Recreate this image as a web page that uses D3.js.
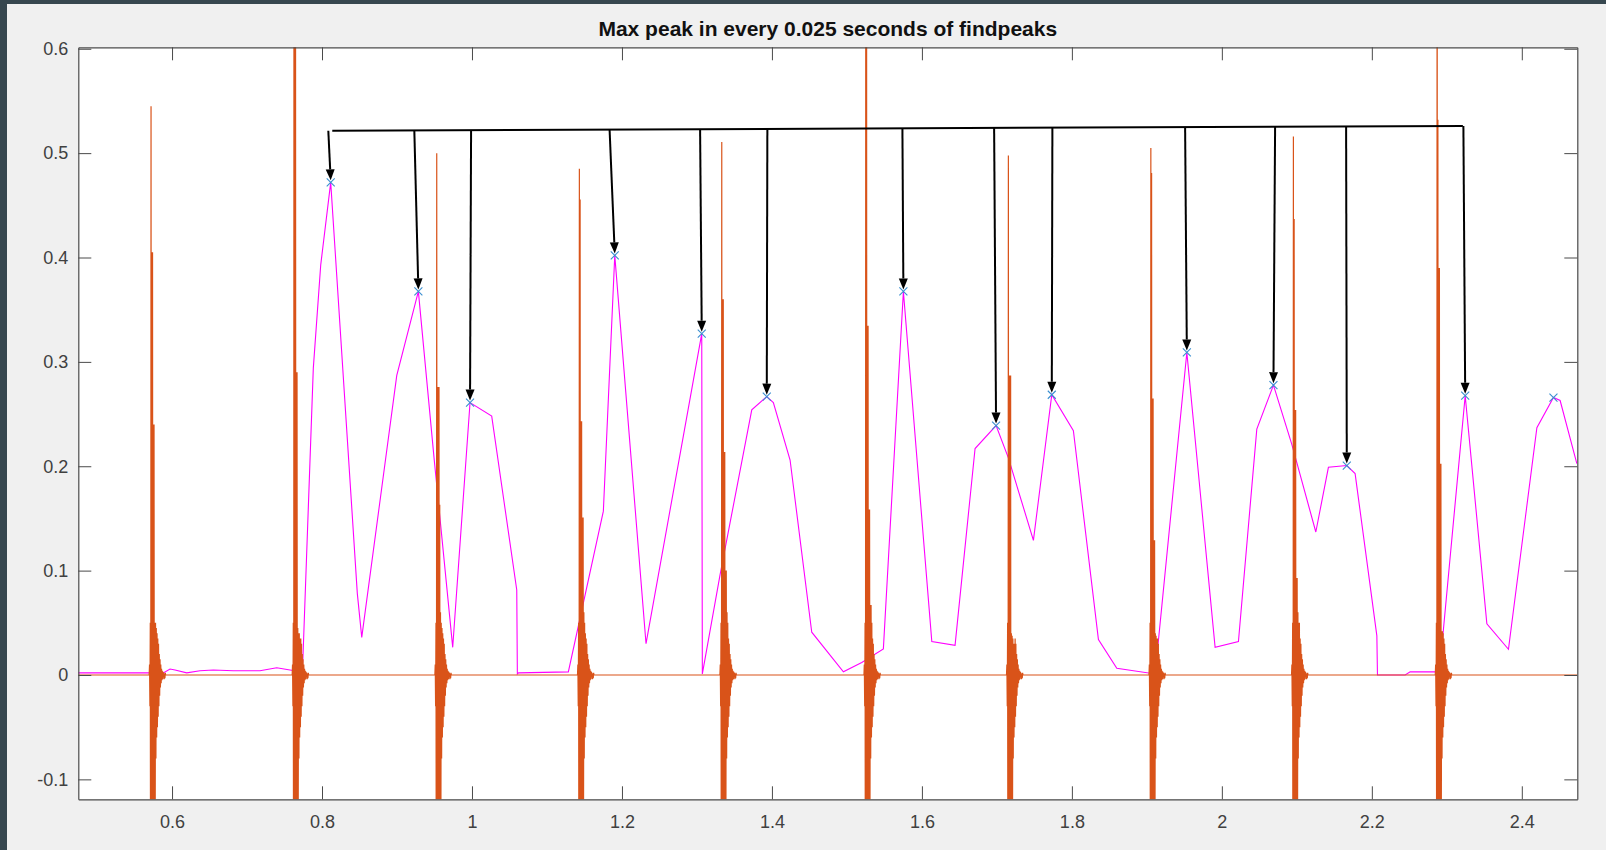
<!DOCTYPE html>
<html>
<head>
<meta charset="utf-8">
<script src="https://cdn.jsdelivr.net/npm/d3@7"></script>
<style>
  body { margin: 0; background: #37474f; }
  svg { display: block; }
  text { font-family: "Liberation Sans", Arial, sans-serif; }
</style>
</head>
<body>
<svg id="chart" width="1606" height="850"></svg>
<script>
// envelope: max peak in every 0.025 s (time in s, value)
const envTime = [0.475, 0.5706, 0.5884, 0.5973, 0.604, 0.6196, 0.6373, 0.655, 0.6817, 0.7173, 0.7396, 0.7573, 0.773,
  0.7745, 0.7884, 0.7983, 0.8116, 0.8471, 0.853, 0.8997, 0.9285, 0.9494, 0.9743, 0.9974, 1.0263, 1.0597, 1.0605,
  1.062, 1.1285, 1.1752, 1.1904, 1.2321, 1.3064, 1.3072, 1.3308, 1.3731, 1.3931, 1.4019, 1.4242, 1.4531, 1.4953,
  1.5198, 1.5486, 1.5753, 1.6132, 1.6442, 1.6709, 1.6989, 1.7153, 1.7487, 1.7732, 1.802, 1.8354, 1.8599, 1.911,
  1.9533, 1.991, 2.0221, 2.0466, 2.0688, 2.0933, 2.1253, 2.1421, 2.1666, 2.1777, 2.2067, 2.2075, 2.2444, 2.2511,
  2.2844, 2.2911, 2.3245, 2.3534, 2.3822, 2.4201, 2.4422, 2.4511, 2.4734];
const envValue = [0.002, 0.002, 0.002, 0.0057, 0.0048, 0.002, 0.004, 0.0048, 0.004, 0.004, 0.007, 0.0048, 0.003,
  0.015, 0.294, 0.393, 0.472, 0.078, 0.036, 0.287, 0.3675, 0.208, 0.0265, 0.261, 0.248, 0.0815, 0.001,
  0.002, 0.003, 0.157, 0.402, 0.03, 0.327, 0.001, 0.096, 0.254, 0.2667, 0.261, 0.206, 0.041, 0.003,
  0.012, 0.025, 0.3675, 0.032, 0.0285, 0.217, 0.239, 0.208, 0.129, 0.2685, 0.234, 0.034, 0.0064, 0.001,
  0.309, 0.0265, 0.032, 0.2356, 0.2777, 0.221, 0.137, 0.199, 0.2007, 0.193, 0.0375, 0.0, 0.0, 0.003,
  0.003, 0.01, 0.2676, 0.049, 0.0246, 0.237, 0.2658, 0.263, 0.2025];

// peaks found by findpeaks
const peakTime = [0.8116, 0.9285, 0.9974, 1.1904, 1.3064, 1.3931, 1.5753, 1.6989, 1.7732, 1.9533, 2.0688, 2.1666, 2.3245, 2.4422];
const peakValue = [0.472, 0.3675, 0.261, 0.402, 0.327, 0.2667, 0.3675, 0.239, 0.2685, 0.309, 0.2777, 0.2007, 0.2676, 0.2658];

// hand-drawn annotation: bracket line and arrows down to the first 13 peaks
const bracketTime = [0.8137, 2.3214];
const bracketValue = [0.5215, 0.526];
const arrowTopTime = [0.8084, 0.9231, 0.9988, 1.1835, 1.3042, 1.3939, 1.574, 1.6963, 1.774, 1.951, 2.071, 2.1657, 2.3221];

// raw signal: one click burst per beat, samples every sampleStep seconds
const sampleStep = 0.0005;
const burstTime = [0.572, 0.7627, 0.953, 1.1432, 1.3331, 1.5252, 1.7153, 1.9053, 2.0954, 2.2871];
const ringLead = [0, 0.01, -0.03, 0.05, -0.35];
const burstCore = [
  [0.545, -0.6, 0.405, -0.5, 0.405, -0.45, 0.24, -0.4, 0.24, -0.3, 0.05, -0.16, 0.05, -0.08, 0.045, -0.06, 0.04, -0.05],
  [0.95, -0.7, 0.8, -0.6, 0.65, -0.5, 0.29, -0.4, 0.29, -0.3, 0.045, -0.16, 0.04, -0.08, 0.04, -0.06, 0.035, -0.05],
  [0.50, -0.6, 0.276, -0.5, 0.276, -0.45, 0.276, -0.4, 0.163, -0.3, 0.06, -0.16, 0.05, -0.08, 0.045, -0.06, 0.04, -0.05],
  [0.485, -0.6, 0.4555, -0.5, 0.243, -0.45, 0.243, -0.4, 0.151, -0.3, 0.151, -0.16, 0.06, -0.08, 0.05, -0.06, 0.04, -0.05],
  [0.5107, -0.6, 0.36, -0.5, 0.36, -0.45, 0.2136, -0.4, 0.2136, -0.3, 0.1, -0.16, 0.1, -0.08, 0.06, -0.06, 0.05, -0.05],
  [0.9, -0.6, 0.75, -0.5, 0.3345, -0.45, 0.3345, -0.4, 0.1585, -0.3, 0.1585, -0.16, 0.067, -0.08, 0.067, -0.06, 0.05, -0.05],
  [0.4977, -0.6, 0.287, -0.5, 0.287, -0.45, 0.287, -0.4, 0.04, -0.3, 0.0376, -0.16, 0.035, -0.08, 0.03, -0.06, 0.03, -0.05],
  [0.505, -0.6, 0.481, -0.5, 0.265, -0.45, 0.265, -0.4, 0.129, -0.3, 0.129, -0.16, 0.04, -0.08, 0.0376, -0.06, 0.035, -0.05],
  [0.516, -0.6, 0.437, -0.5, 0.2539, -0.45, 0.2539, -0.4, 0.093, -0.3, 0.093, -0.16, 0.06, -0.08, 0.05, -0.06, 0.05, -0.05],
  [0.9, -0.6, 0.532, -0.5, 0.39, -0.45, 0.39, -0.4, 0.2025, -0.3, 0.2025, -0.16, 0.042, -0.08, 0.042, -0.06, 0.04, -0.05]
];
const ringTail = [0.035, -0.04, 0.03, -0.03, 0.02, -0.02, 0.015, -0.012, 0.01, -0.008, 0.006, -0.005, 0.004, -0.004,
  0.003, -0.002, 0.002, -0.004, 0.001, -0.003, 0.002, 0];

const xTicks = [0.6, 0.8, 1, 1.2, 1.4, 1.6, 1.8, 2, 2.2, 2.4];
const yTicks = [-0.1, 0, 0.1, 0.2, 0.3, 0.4, 0.5, 0.6];
const xLimits = [0.475, 2.474];
const yLimits = [-0.1191, 0.6014];
const chartTitle = "Max peak in every 0.025 seconds of findpeaks";

const svg = d3.select("#chart");
const plotLeft = 78.3, plotRight = 1577.3, plotTop = 47.3, plotBottom = 799.3;

const x = d3.scaleLinear().domain(xLimits).range([plotLeft, plotRight]);
const y = d3.scaleLinear().domain(yLimits).range([plotBottom, plotTop]);

// figure background
svg.append("rect").attr("x", 7).attr("y", 4).attr("width", 1599).attr("height", 846).attr("fill", "#f0f0f0");
svg.append("rect").attr("x", plotLeft).attr("y", plotTop)
  .attr("width", plotRight - plotLeft).attr("height", plotBottom - plotTop)
  .attr("fill", "#ffffff");

svg.append("clipPath").attr("id", "plot-clip")
  .append("rect").attr("x", plotLeft).attr("y", plotTop)
  .attr("width", plotRight - plotLeft).attr("height", plotBottom - plotTop);

const plot = svg.append("g").attr("clip-path", "url(#plot-clip)");

// envelope line
const env = envTime.map((t, i) => [t, envValue[i]]);
const line = d3.line().x(d => x(d[0])).y(d => y(d[1]));
plot.append("path")
  .datum(env)
  .attr("d", line)
  .attr("fill", "none")
  .attr("stroke", "#ff00ff")
  .attr("stroke-width", 1.1);

// raw signal
let signal = [[xLimits[0], 0]];
burstTime.forEach((t0, b) => {
  const samples = ringLead.concat(burstCore[b], ringTail);
  samples.forEach((v, i) => {
    signal.push([t0 + (i - ringLead.length) * sampleStep, v]);
  });
});
signal.push([xLimits[1], 0]);

plot.append("path")
  .datum(signal)
  .attr("d", line)
  .attr("fill", "none")
  .attr("stroke", "#d95319")
  .attr("stroke-width", 1.2)
  .attr("stroke-linejoin", "miter")
  .attr("stroke-miterlimit", 1);

// peak markers
const peaks = peakTime.map((t, i) => [t, peakValue[i]]);
const marks = svg.append("g").attr("stroke", "#3a8fd0").attr("stroke-width", 1.1);
peaks.forEach(d => {
  const cx = x(d[0]), cy = y(d[1]);
  marks.append("path").attr("d", `M${cx - 4},${cy - 4}L${cx + 4},${cy + 4}M${cx - 4},${cy + 4}L${cx + 4},${cy - 4}`);
});

// annotation bracket and arrows
const bracketLevel = d3.scaleLinear().domain(bracketTime).range(bracketValue);
const ann = svg.append("g");
ann.append("line")
  .attr("x1", x(bracketTime[0])).attr("y1", y(bracketValue[0]))
  .attr("x2", x(bracketTime[1])).attr("y2", y(bracketValue[1]))
  .attr("stroke", "#000").attr("stroke-width", 2);

arrowTopTime.forEach((t, i) => {
  const x1 = x(t), y1 = y(bracketLevel(t));
  const x2 = x(peakTime[i]), y2 = y(peakValue[i]) - 2;
  const len = Math.hypot(x2 - x1, y2 - y1);
  const ux = (x2 - x1) / len, uy = (y2 - y1) / len;
  const headLen = 11, headHalf = 4.5;
  const bx = x2 - ux * headLen, by = y2 - uy * headLen;
  ann.append("line")
    .attr("x1", x1).attr("y1", y1).attr("x2", bx).attr("y2", by)
    .attr("stroke", "#000").attr("stroke-width", 2);
  ann.append("path")
    .attr("d", `M${x2},${y2}L${bx - uy * headHalf},${by + ux * headHalf}L${bx + uy * headHalf},${by - ux * headHalf}Z`)
    .attr("fill", "#000");
});

// axes, MATLAB style box with inward ticks
const axisColor = "#4a4a4a";
const tickLen = 13;
function styleAxis(g) {
  g.select(".domain").attr("stroke", axisColor);
  g.selectAll(".tick line").attr("stroke", axisColor);
  g.selectAll(".tick text").attr("fill", "#404040").attr("font-size", 18);
}

svg.append("g").attr("transform", `translate(0,${plotBottom})`)
  .call(d3.axisBottom(x).tickValues(xTicks).tickFormat(d => String(d))
    .tickSizeInner(-tickLen).tickSizeOuter(0).tickPadding(16))
  .call(styleAxis);
svg.append("g").attr("transform", `translate(0,${plotTop})`)
  .call(d3.axisTop(x).tickValues(xTicks).tickFormat("")
    .tickSizeInner(-tickLen).tickSizeOuter(0))
  .call(styleAxis);
svg.append("g").attr("transform", `translate(${plotLeft},0)`)
  .call(d3.axisLeft(y).tickValues(yTicks).tickFormat(d => String(d))
    .tickSizeInner(-tickLen).tickSizeOuter(0).tickPadding(10))
  .call(styleAxis);
svg.append("g").attr("transform", `translate(${plotRight},0)`)
  .call(d3.axisRight(y).tickValues(yTicks).tickFormat("")
    .tickSizeInner(-tickLen).tickSizeOuter(0))
  .call(styleAxis);

svg.selectAll(".domain").attr("stroke-width", 1.2);

// title
svg.append("text")
  .attr("x", (plotLeft + plotRight) / 2)
  .attr("y", 36)
  .attr("text-anchor", "middle")
  .attr("font-size", 21)
  .attr("font-weight", "bold")
  .attr("fill", "#111")
  .text(chartTitle);
</script>
</body>
</html>
